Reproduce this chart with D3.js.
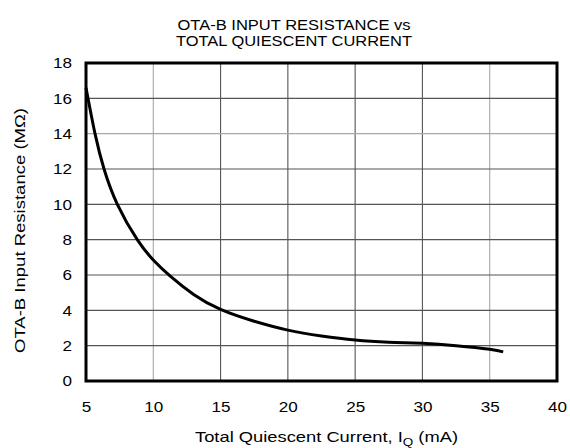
<!DOCTYPE html>
<html>
<head>
<meta charset="utf-8">
<script src="https://cdn.jsdelivr.net/npm/d3@7"></script>
<style>
  html, body { margin: 0; padding: 0; background: #fff; }
  text { font-family: "Liberation Sans", Arial, sans-serif; fill: #000; }
</style>
</head>
<body>
<svg id="chart" width="570" height="448"></svg>
<script>
const titleLines = ["OTA-B INPUT RESISTANCE vs", "TOTAL QUIESCENT CURRENT"];
const xTicks = [5, 10, 15, 20, 25, 30, 35, 40];
const yTicks = [0, 2, 4, 6, 8, 10, 12, 14, 16, 18];
const currentMA = [5, 5.67, 6.34, 7.33, 8.81, 10, 11.24, 13, 15, 17.5, 20, 22.5, 25, 27.5, 30, 32.5, 35, 36];
const resistanceMOhm = [16.6, 14, 12, 10, 8, 6.85, 5.95, 4.9, 4.05, 3.38, 2.88, 2.55, 2.32, 2.2, 2.13, 2.0, 1.8, 1.65];

const svg = d3.select("#chart");
const L = 86, R = 557, T = 63, B = 381;
const x = d3.scaleLinear().domain([5, 40]).range([L, R]);
const y = d3.scaleLinear().domain([0, 18]).range([B, T]);

const lightX = new Set([10, 35]);
const lightY = new Set([14]);

// grid
svg.append("g").selectAll("line").data(xTicks.slice(1, -1)).join("line")
  .attr("x1", d => x(d)).attr("x2", d => x(d)).attr("y1", T).attr("y2", B)
  .attr("stroke", d => lightX.has(d) ? "#a8a8a8" : "#555").attr("stroke-width", 1.1);
svg.append("g").selectAll("line").data(yTicks.slice(1, -1)).join("line")
  .attr("x1", L).attr("x2", R).attr("y1", d => y(d)).attr("y2", d => y(d))
  .attr("stroke", d => lightY.has(d) ? "#a8a8a8" : "#555").attr("stroke-width", 1.1);

// curve
const line = d3.line().x((d, i) => x(currentMA[i])).y(d => y(d)).curve(d3.curveNatural);
svg.append("path").datum(resistanceMOhm).attr("d", line)
  .attr("fill", "none").attr("stroke", "#000").attr("stroke-width", 3);

// frame
svg.append("rect").attr("x", L).attr("y", T).attr("width", R - L).attr("height", B - T)
  .attr("fill", "none").attr("stroke", "#000").attr("stroke-width", 3);

// axes labels via d3 axes
const xAxis = d3.axisBottom(x).tickValues(xTicks).tickSize(0).tickPadding(0);
const gx = svg.append("g").attr("transform", `translate(0,${B + 20})`).call(xAxis);
gx.select(".domain").remove();
gx.selectAll("text").attr("font-size", 15).attr("font-family", "Liberation Sans, Arial, sans-serif").attr("fill", "#000")
  .attr("textLength", d => String(d).length * 9.5).attr("lengthAdjust", "spacingAndGlyphs");

const yAxis = d3.axisLeft(y).tickValues(yTicks).tickSize(0).tickPadding(0);
const gy = svg.append("g").attr("transform", `translate(${72},0)`).call(yAxis);
gy.select(".domain").remove();
gy.selectAll("text").attr("font-size", 15).attr("font-family", "Liberation Sans, Arial, sans-serif").attr("fill", "#000")
  .attr("textLength", d => String(d).length * 9.5).attr("lengthAdjust", "spacingAndGlyphs");

// title
const titleWidths = [233, 236];
svg.append("g").selectAll("text").data(titleLines).join("text")
  .attr("x", 294).attr("y", (d, i) => 30 + i * 15.5)
  .attr("text-anchor", "middle").attr("font-size", 14.5)
  .attr("textLength", (d, i) => titleWidths[i]).attr("lengthAdjust", "spacingAndGlyphs")
  .text(d => d);

// x title
const xt = svg.append("text").attr("x", 326.5).attr("y", 442).attr("text-anchor", "middle").attr("font-size", 15)
  .attr("textLength", 263).attr("lengthAdjust", "spacingAndGlyphs");
xt.append("tspan").text("Total Quiescent Current, I");
xt.append("tspan").attr("font-size", 11).attr("dy", 4).text("Q");
xt.append("tspan").attr("dy", -4).text(" (mA)");

// y title
svg.append("text").attr("transform", "translate(25,230.5) rotate(-90)")
  .attr("text-anchor", "middle").attr("font-size", 15)
  .attr("textLength", 245).attr("lengthAdjust", "spacingAndGlyphs")
  .text("OTA-B Input Resistance (MΩ)");
</script>
</body>
</html>
